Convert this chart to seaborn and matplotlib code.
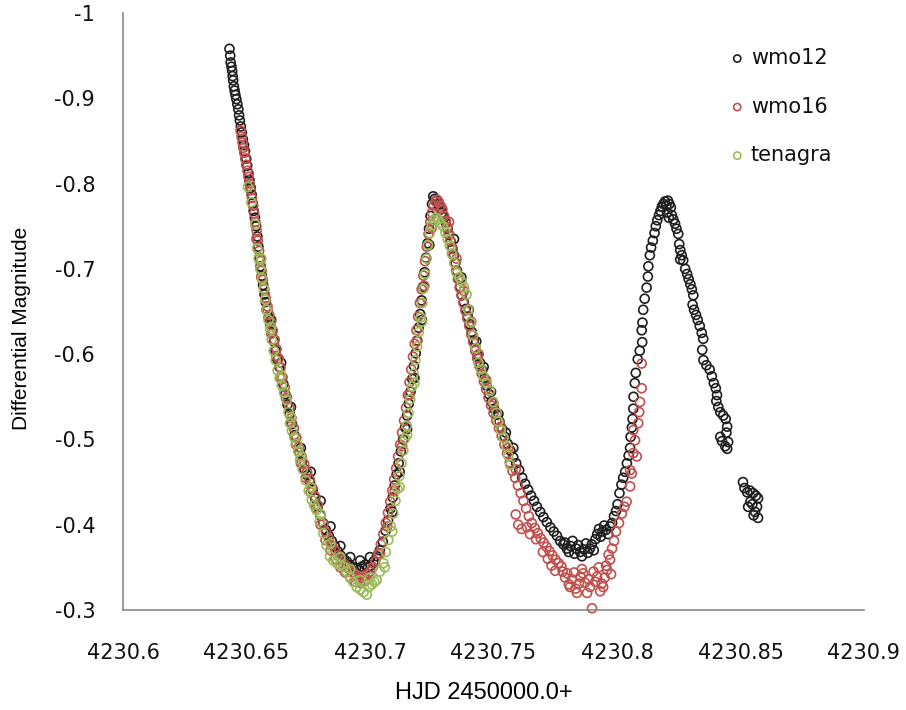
import matplotlib
matplotlib.use("Agg")
import matplotlib.pyplot as plt
import seaborn as sns
import pandas as pd
from matplotlib.ticker import FuncFormatter

# ---- photometry: heliocentric Julian date and differential magnitude ----
wmo12_hjd = [
    4230.6431, 4230.6434, 4230.6436, 4230.6439, 4230.6442, 4230.6444, 4230.6446, 4230.6449,
    4230.6452, 4230.6455, 4230.6459, 4230.6463, 4230.6467, 4230.6470, 4230.6473, 4230.6477,
    4230.6481, 4230.6485, 4230.6490, 4230.6494, 4230.6499, 4230.6503, 4230.6508, 4230.6512,
    4230.6517, 4230.6521, 4230.6525, 4230.6529, 4230.6534, 4230.6539, 4230.6544, 4230.6548,
    4230.6553, 4230.6557, 4230.6562, 4230.6567, 4230.6573, 4230.6578, 4230.6584, 4230.6590,
    4230.6597, 4230.6604, 4230.6611, 4230.6618, 4230.6625, 4230.6633, 4230.6641, 4230.6649,
    4230.6657, 4230.6666, 4230.6675, 4230.6684, 4230.6694, 4230.6703, 4230.6713, 4230.6724,
    4230.6735, 4230.6746, 4230.6757, 4230.6768, 4230.6778, 4230.6788, 4230.6799, 4230.6810,
    4230.6821, 4230.6833, 4230.6845, 4230.6857, 4230.6869, 4230.6881, 4230.6893, 4230.6906,
    4230.6918, 4230.6930, 4230.6943, 4230.6955, 4230.6968, 4230.6980, 4230.6992, 4230.7003,
    4230.7015, 4230.7028, 4230.7040, 4230.7052, 4230.7063, 4230.7073, 4230.7083, 4230.7092,
    4230.7100, 4230.7108, 4230.7116, 4230.7125, 4230.7134, 4230.7142, 4230.7150, 4230.7157,
    4230.7164, 4230.7171, 4230.7178, 4230.7185, 4230.7191, 4230.7197, 4230.7203, 4230.7209,
    4230.7215, 4230.7221, 4230.7227, 4230.7233, 4230.7239, 4230.7245, 4230.7251, 4230.7256,
    4230.7262,
    4230.7268, 4230.7276, 4230.7284, 4230.7292, 4230.7300, 4230.7307, 4230.7314, 4230.7320,
    4230.7327, 4230.7334, 4230.7340, 4230.7346, 4230.7352, 4230.7358, 4230.7365, 4230.7372,
    4230.7380, 4230.7388, 4230.7396, 4230.7404, 4230.7412, 4230.7420, 4230.7428, 4230.7436,
    4230.7445, 4230.7454, 4230.7463, 4230.7472, 4230.7482, 4230.7492, 4230.7502, 4230.7513,
    4230.7524, 4230.7535, 4230.7546, 4230.7557, 4230.7568, 4230.7580, 4230.7592, 4230.7604,
    4230.7616, 4230.7628, 4230.7640, 4230.7652, 4230.7664, 4230.7676, 4230.7689, 4230.7702,
    4230.7716, 4230.7730, 4230.7744, 4230.7757, 4230.7770, 4230.7783,
    4230.7790, 4230.7797, 4230.7805, 4230.7812, 4230.7820, 4230.7828, 4230.7835, 4230.7843,
    4230.7851, 4230.7858, 4230.7866, 4230.7874, 4230.7882, 4230.7890, 4230.7898, 4230.7906,
    4230.7913, 4230.7920, 4230.7927, 4230.7934, 4230.7941, 4230.7948, 4230.7956, 4230.7964,
    4230.7972, 4230.7980, 4230.7988,
    4230.7996, 4230.8002, 4230.8010, 4230.8018, 4230.8025, 4230.8033, 4230.8040, 4230.8047,
    4230.8053, 4230.8055, 4230.8060, 4230.8063, 4230.8066, 4230.8067, 4230.8072, 4230.8076,
    4230.8084, 4230.8092, 4230.8102, 4230.8100, 4230.8103, 4230.8106, 4230.8112, 4230.8120,
    4230.8125, 4230.8127, 4230.8133, 4230.8138, 4230.8145, 4230.8152, 4230.8157, 4230.8163,
    4230.8170, 4230.8176, 4230.8182, 4230.8188, 4230.8194, 4230.8200, 4230.8206, 4230.8212,
    4230.8218, 4230.8203, 4230.8210, 4230.8222, 4230.8228, 4230.8235, 4230.8241, 4230.8248,
    4230.8252, 4230.8256, 4230.8262, 4230.8268, 4230.8256, 4230.8276, 4230.8284, 4230.8290,
    4230.8297, 4230.8303, 4230.8309, 4230.8306, 4230.8312, 4230.8320, 4230.8327, 4230.8335,
    4230.8343, 4230.8349, 4230.8345, 4230.8350, 4230.8362, 4230.8375, 4230.8384, 4230.8392,
    4230.8400, 4230.8405, 4230.8402, 4230.8410, 4230.8418, 4230.8430, 4230.8440, 4230.8446,
    4230.8443, 4230.8418, 4230.8425, 4230.8450, 4230.8446, 4230.8438,
    4230.8510, 4230.8516, 4230.8527, 4230.8538, 4230.8551, 4230.8562, 4230.8571, 4230.8540,
    4230.8531, 4230.8548, 4230.8567, 4230.8559, 4230.8571, 4230.8553,
    # scatter along the edges of the band
    4230.6600, 4230.6640, 4230.6680, 4230.6720, 4230.6760, 4230.6800, 4230.6840, 4230.6880,
    4230.6920, 4230.6960, 4230.7000,
    4230.7090, 4230.7120, 4230.7150, 4230.7180, 4230.7210, 4230.7240,
    4230.7340, 4230.7370, 4230.7400, 4230.7430, 4230.7460, 4230.7490, 4230.7520, 4230.7550,
    4230.7580,
]
wmo12_mag = [
    -0.958, -0.950, -0.942, -0.937, -0.932, -0.926, -0.921, -0.914,
    -0.909, -0.904, -0.899, -0.893, -0.887, -0.880, -0.874, -0.867,
    -0.860, -0.852, -0.845, -0.838, -0.829, -0.821, -0.812, -0.804,
    -0.795, -0.787, -0.777, -0.768, -0.760, -0.750, -0.738, -0.726,
    -0.713, -0.703, -0.692, -0.681, -0.670, -0.661, -0.652, -0.643,
    -0.635, -0.626, -0.615, -0.604, -0.594, -0.585, -0.574, -0.565,
    -0.553, -0.541, -0.530, -0.518, -0.505, -0.495, -0.485, -0.474,
    -0.465, -0.458, -0.450, -0.441, -0.431, -0.421, -0.411, -0.402,
    -0.394, -0.387, -0.381, -0.375, -0.369, -0.364, -0.360, -0.357,
    -0.353, -0.350, -0.349, -0.347, -0.351, -0.353, -0.350, -0.352,
    -0.357, -0.363, -0.370, -0.380, -0.393, -0.405, -0.419, -0.432,
    -0.446, -0.459, -0.472, -0.486, -0.500, -0.514, -0.528, -0.542,
    -0.556, -0.571, -0.586, -0.601, -0.616, -0.631, -0.647, -0.663,
    -0.679, -0.696, -0.713, -0.730, -0.747, -0.762, -0.776, -0.785,
    -0.782,
    -0.780, -0.776, -0.771, -0.766, -0.760, -0.754, -0.747, -0.740,
    -0.732, -0.724, -0.716, -0.707, -0.698, -0.689, -0.679, -0.669,
    -0.661, -0.653, -0.644, -0.635, -0.626, -0.616, -0.607, -0.598,
    -0.590, -0.581, -0.572, -0.563, -0.553, -0.544, -0.536, -0.529,
    -0.521, -0.512, -0.503, -0.495, -0.487, -0.479, -0.472, -0.464,
    -0.455, -0.448, -0.441, -0.434, -0.428, -0.421, -0.415, -0.409,
    -0.403, -0.397, -0.392, -0.387, -0.381, -0.377,
    -0.379, -0.372, -0.368, -0.375, -0.381, -0.366, -0.372, -0.376,
    -0.368, -0.363, -0.371, -0.378, -0.367, -0.372, -0.377, -0.370,
    -0.383, -0.389, -0.395, -0.386, -0.392, -0.399, -0.394, -0.389,
    -0.398, -0.402, -0.410,
    -0.416, -0.424, -0.437, -0.447, -0.455, -0.462, -0.472, -0.481,
    -0.490, -0.503, -0.514, -0.524, -0.536, -0.550, -0.566, -0.578,
    -0.594, -0.604, -0.614, -0.628, -0.637, -0.652, -0.665, -0.678,
    -0.691, -0.703, -0.716, -0.725, -0.733, -0.742, -0.750, -0.757,
    -0.763, -0.768, -0.773, -0.776, -0.779, -0.774, -0.780, -0.776,
    -0.772, -0.766, -0.760, -0.763, -0.758, -0.753, -0.747, -0.741,
    -0.729, -0.722, -0.716, -0.710, -0.711, -0.700, -0.694, -0.688,
    -0.682, -0.676, -0.669, -0.658, -0.652, -0.646, -0.640, -0.633,
    -0.625, -0.618, -0.605, -0.593, -0.587, -0.582, -0.574, -0.566,
    -0.560, -0.552, -0.545, -0.538, -0.532, -0.528, -0.524, -0.515,
    -0.508, -0.503, -0.498, -0.497, -0.489, -0.492,
    -0.450, -0.443, -0.438, -0.440, -0.437, -0.434, -0.431, -0.427,
    -0.421, -0.424, -0.421, -0.415, -0.408, -0.411,
    -0.640, -0.590, -0.538, -0.490, -0.462, -0.428, -0.398, -0.375,
    -0.362, -0.358, -0.362,
    -0.415, -0.462, -0.512, -0.572, -0.640, -0.728,
    -0.735, -0.690, -0.652, -0.615, -0.585, -0.556, -0.530, -0.508,
    -0.490,
]

wmo16_hjd = [
    4230.6476, 4230.6480, 4230.6484, 4230.6487, 4230.6491, 4230.6495, 4230.6499, 4230.6504,
    4230.6508, 4230.6513, 4230.6517, 4230.6522, 4230.6527, 4230.6531, 4230.6536, 4230.6541,
    4230.6546, 4230.6551, 4230.6556, 4230.6561, 4230.6566, 4230.6572, 4230.6578, 4230.6585,
    4230.6592, 4230.6599, 4230.6606, 4230.6614, 4230.6622, 4230.6630, 4230.6638, 4230.6646,
    4230.6655, 4230.6664, 4230.6673, 4230.6682, 4230.6692, 4230.6702, 4230.6712, 4230.6723,
    4230.6734, 4230.6745, 4230.6756, 4230.6767, 4230.6778, 4230.6789, 4230.6800, 4230.6811,
    4230.6822, 4230.6834, 4230.6846, 4230.6858, 4230.6870, 4230.6882, 4230.6894, 4230.6906,
    4230.6918, 4230.6930, 4230.6942, 4230.6954, 4230.6966, 4230.6978, 4230.6990,
    4230.7000, 4230.7011, 4230.7022, 4230.7033, 4230.7044, 4230.7054, 4230.7064, 4230.7073,
    4230.7082, 4230.7090, 4230.7098, 4230.7106, 4230.7114, 4230.7122, 4230.7130, 4230.7138,
    4230.7146, 4230.7153, 4230.7160, 4230.7167, 4230.7174, 4230.7181, 4230.7188, 4230.7195,
    4230.7202, 4230.7209, 4230.7216, 4230.7223, 4230.7230, 4230.7237, 4230.7244, 4230.7251,
    4230.7258, 4230.7265, 4230.7272, 4230.7279, 4230.7286, 4230.7293,
    4230.7300, 4230.7307, 4230.7313, 4230.7319, 4230.7325, 4230.7331, 4230.7337, 4230.7343,
    4230.7349, 4230.7356, 4230.7363, 4230.7370, 4230.7378, 4230.7386, 4230.7394, 4230.7402,
    4230.7410, 4230.7418, 4230.7426, 4230.7434, 4230.7443, 4230.7452, 4230.7461, 4230.7470,
    4230.7480, 4230.7490, 4230.7500, 4230.7511, 4230.7522, 4230.7533, 4230.7544, 4230.7555,
    4230.7566, 4230.7577, 4230.7588, 4230.7599, 4230.7610, 4230.7621, 4230.7632, 4230.7643,
    4230.7655, 4230.7667, 4230.7679, 4230.7691, 4230.7703, 4230.7715, 4230.7727, 4230.7739,
    4230.7751, 4230.7763, 4230.7775,
    4230.7590, 4230.7600, 4230.7614, 4230.7636, 4230.7648, 4230.7672, 4230.7700, 4230.7720,
    4230.7735, 4230.7750,
    4230.7780, 4230.7790, 4230.7798, 4230.7805, 4230.7810, 4230.7818, 4230.7826, 4230.7832,
    4230.7838, 4230.7846, 4230.7852, 4230.7858, 4230.7863, 4230.7870, 4230.7879, 4230.7885,
    4230.7891, 4230.7899, 4230.7905, 4230.7912, 4230.7919, 4230.7926, 4230.7932, 4230.7938,
    4230.7944, 4230.7950, 4230.7956, 4230.7960, 4230.7966, 4230.7972, 4230.7976, 4230.7980,
    4230.7988, 4230.7996, 4230.8008, 4230.8020, 4230.8030, 4230.8039, 4230.8053, 4230.8060,
    4230.8053, 4230.8066, 4230.8080, 4230.8073, 4230.8066, 4230.8086, 4230.8090, 4230.8093,
    4230.8100, 4230.8100,
    # scatter along the edges of the band
    4230.6540, 4230.6560, 4230.6580, 4230.6600, 4230.6620, 4230.6640, 4230.6660, 4230.6680,
    4230.6700, 4230.6720, 4230.6740, 4230.6760, 4230.6780, 4230.6800, 4230.6820, 4230.6840,
    4230.6860, 4230.6880, 4230.6900, 4230.6920, 4230.6940, 4230.6960, 4230.6980,
    4230.7040, 4230.7070, 4230.7100, 4230.7130, 4230.7160, 4230.7190, 4230.7220, 4230.7250,
    4230.7320, 4230.7350, 4230.7380, 4230.7410, 4230.7440, 4230.7470, 4230.7500, 4230.7530,
    4230.7560, 4230.7590,
]
wmo16_mag = [
    -0.862, -0.855, -0.848, -0.842, -0.836, -0.829, -0.822, -0.815,
    -0.808, -0.800, -0.792, -0.783, -0.774, -0.765, -0.755, -0.745,
    -0.733, -0.721, -0.709, -0.698, -0.687, -0.676, -0.666, -0.656,
    -0.646, -0.638, -0.628, -0.617, -0.606, -0.595, -0.584, -0.573,
    -0.561, -0.549, -0.537, -0.525, -0.513, -0.502, -0.491, -0.480,
    -0.471, -0.462, -0.453, -0.443, -0.433, -0.423, -0.412, -0.401,
    -0.391, -0.383, -0.376, -0.370, -0.364, -0.359, -0.354, -0.350,
    -0.347, -0.344, -0.341, -0.340, -0.338, -0.340, -0.342,
    -0.345, -0.350, -0.357, -0.366, -0.377, -0.389, -0.402, -0.414,
    -0.427, -0.440, -0.453, -0.466, -0.480, -0.494, -0.508, -0.522,
    -0.537, -0.552, -0.567, -0.582, -0.597, -0.612, -0.628, -0.644,
    -0.660, -0.676, -0.692, -0.709, -0.726, -0.741, -0.755, -0.766,
    -0.774, -0.779, -0.781, -0.778, -0.774, -0.770,
    -0.762, -0.756, -0.749, -0.741, -0.733, -0.725, -0.716, -0.707,
    -0.698, -0.688, -0.678, -0.669, -0.660, -0.651, -0.642, -0.633,
    -0.623, -0.614, -0.604, -0.595, -0.586, -0.577, -0.568, -0.559,
    -0.549, -0.540, -0.531, -0.522, -0.513, -0.504, -0.494, -0.484,
    -0.473, -0.463, -0.455, -0.446, -0.437, -0.428, -0.419, -0.410,
    -0.402, -0.396, -0.390, -0.384, -0.379, -0.374, -0.369, -0.364,
    -0.359, -0.355, -0.351,
    -0.412, -0.400, -0.395, -0.397, -0.389, -0.383, -0.368, -0.360,
    -0.352, -0.346,
    -0.345, -0.338, -0.343, -0.330, -0.327, -0.336, -0.344, -0.325,
    -0.320, -0.331, -0.339, -0.348, -0.343, -0.332, -0.320, -0.336,
    -0.327, -0.302, -0.345, -0.333, -0.339, -0.350, -0.322, -0.331,
    -0.327, -0.338, -0.352, -0.347, -0.365, -0.359, -0.342, -0.372,
    -0.381, -0.392, -0.402, -0.413, -0.421, -0.427, -0.445, -0.460,
    -0.464, -0.484, -0.480, -0.499, -0.511, -0.519, -0.532, -0.544,
    -0.560, -0.589,
    -0.735, -0.690, -0.652, -0.624, -0.598, -0.572, -0.548, -0.520,
    -0.494, -0.472, -0.455, -0.438, -0.420, -0.400, -0.382, -0.370,
    -0.360, -0.350, -0.344, -0.338, -0.333, -0.332, -0.334,
    -0.366, -0.398, -0.440, -0.492, -0.552, -0.615, -0.680, -0.748,
    -0.755, -0.712, -0.674, -0.638, -0.600, -0.570, -0.542, -0.515,
    -0.490, -0.465,
]

tenagra_hjd = [
    4230.6506, 4230.6520, 4230.6535, 4230.6543, 4230.6549, 4230.6556, 4230.6563, 4230.6570,
    4230.6576, 4230.6582, 4230.6589, 4230.6596, 4230.6602, 4230.6610, 4230.6618, 4230.6626,
    4230.6634, 4230.6643, 4230.6652, 4230.6663, 4230.6670, 4230.6676, 4230.6684, 4230.6694,
    4230.6703, 4230.6710, 4230.6717, 4230.6728, 4230.6740, 4230.6752, 4230.6764, 4230.6774,
    4230.6784, 4230.6797, 4230.6811, 4230.6824, 4230.6838, 4230.6851, 4230.6865, 4230.6878,
    4230.6892, 4230.6905, 4230.6919, 4230.6932, 4230.6946, 4230.6960, 4230.6974, 4230.6987,
    4230.6996, 4230.7008, 4230.7018,
    4230.7027, 4230.7040, 4230.7054, 4230.7064, 4230.7074, 4230.7084, 4230.7094, 4230.7103,
    4230.7111, 4230.7119, 4230.7127, 4230.7135, 4230.7142, 4230.7149, 4230.7156, 4230.7163,
    4230.7170, 4230.7177, 4230.7184, 4230.7191, 4230.7198, 4230.7205, 4230.7211, 4230.7217,
    4230.7223, 4230.7229, 4230.7235, 4230.7242, 4230.7250, 4230.7258, 4230.7267, 4230.7276,
    4230.7285,
    4230.7295, 4230.7305, 4230.7314, 4230.7323, 4230.7331, 4230.7341, 4230.7351, 4230.7361,
    4230.7371, 4230.7381, 4230.7391, 4230.7398, 4230.7408, 4230.7418, 4230.7428, 4230.7439,
    4230.7449, 4230.7459, 4230.7472, 4230.7486, 4230.7499, 4230.7513, 4230.7520, 4230.7530,
    4230.7541, 4230.7554, 4230.7560, 4230.7567,
    # scatter along the edges of the band
    4230.6560, 4230.6600, 4230.6640, 4230.6680, 4230.6720, 4230.6760, 4230.6800, 4230.6840,
    4230.6880, 4230.6920, 4230.6960, 4230.7000,
    4230.7060, 4230.7090, 4230.7120, 4230.7150, 4230.7180, 4230.7210,
]
tenagra_mag = [
    -0.796, -0.778, -0.752, -0.724, -0.712, -0.700, -0.689, -0.677,
    -0.664, -0.652, -0.640, -0.629, -0.617, -0.604, -0.593, -0.581,
    -0.572, -0.563, -0.555, -0.546, -0.532, -0.519, -0.510, -0.502,
    -0.495, -0.486, -0.476, -0.465, -0.452, -0.440, -0.429, -0.423,
    -0.417, -0.404, -0.390, -0.376, -0.363, -0.358, -0.355, -0.353,
    -0.351, -0.345, -0.339, -0.333, -0.327, -0.324, -0.321, -0.318,
    -0.327, -0.330, -0.333,
    -0.335, -0.345, -0.355, -0.368, -0.382, -0.398, -0.413, -0.428,
    -0.442, -0.457, -0.472, -0.487, -0.501, -0.516, -0.531, -0.547,
    -0.562, -0.577, -0.593, -0.609, -0.626, -0.643, -0.660, -0.677,
    -0.694, -0.712, -0.728, -0.742, -0.751, -0.757, -0.760, -0.758,
    -0.754,
    -0.750, -0.743, -0.735, -0.727, -0.718, -0.707, -0.695, -0.690,
    -0.685, -0.678, -0.670, -0.652, -0.637, -0.622, -0.607, -0.590,
    -0.582, -0.574, -0.566, -0.557, -0.544, -0.531, -0.521, -0.511,
    -0.502, -0.492, -0.481, -0.470,
    -0.712, -0.632, -0.575, -0.526, -0.480, -0.444, -0.412, -0.378,
    -0.362, -0.348, -0.335, -0.338,
    -0.350, -0.392, -0.444, -0.505, -0.566, -0.638,
]

series_names = ["wmo12", "wmo16", "tenagra"]
series_colors = ["#1e1e1e", "#c0504d", "#9bbb59"]

x_ticks = [4230.6, 4230.65, 4230.7, 4230.75, 4230.8, 4230.85, 4230.9]
y_ticks = [-1.0, -0.9, -0.8, -0.7, -0.6, -0.5, -0.4, -0.3]

# ---- styling ----
sns.set_style("white")
plt.rcParams["font.family"] = ["DejaVu Sans"]

W, H = 906, 710
fig = plt.figure(figsize=(W / 100, H / 100), dpi=100)
ax = fig.add_axes([123 / W, 100 / H, 741 / W, 597 / H])

series = [
    (series_names[0], wmo12_hjd, wmo12_mag, series_colors[0]),
    (series_names[1], wmo16_hjd, wmo16_mag, series_colors[1]),
    (series_names[2], tenagra_hjd, tenagra_mag, series_colors[2]),
]
for name, hjd, mag, col in series:
    df = pd.DataFrame({"HJD": hjd, "mag": mag})
    sns.scatterplot(
        data=df, x="HJD", y="mag", ax=ax, marker="o", s=42,
        color=col, facecolors="none", edgecolor=col, linewidth=1.2,
        label=name, clip_on=False,
    )

ax.set_xlim(4230.6, 4230.9)
ax.set_ylim(-0.3, -1.0)
ax.set_xticks(x_ticks)
ax.set_yticks(y_ticks)
fmt = FuncFormatter(lambda v, p: f"{v:g}")
ax.xaxis.set_major_formatter(fmt)
ax.yaxis.set_major_formatter(fmt)

axis_grey = "#8a8a8a"
ax.tick_params(axis="x", direction="in", length=6, width=1.0, color=axis_grey,
               pad=24, labelsize=15, labelcolor="#111111")
ax.tick_params(axis="y", direction="in", length=7, width=1.0, color=axis_grey,
               pad=20, labelsize=15, labelcolor="#111111")
for side in ("top", "right"):
    ax.spines[side].set_visible(False)
for side in ("left", "bottom"):
    ax.spines[side].set_color(axis_grey)
    ax.spines[side].set_linewidth(1.2)

label_font = ["Liberation Sans", "DejaVu Sans"]
ax.set_xlabel("HJD 2450000.0+", fontsize=17, family=label_font, color="#000000")
ax.xaxis.set_label_coords((484 - 123) / 741, (610 - 693) / 597)
ax.xaxis.label.set_va("center")
ax.set_ylabel("Differential Magnitude", fontsize=15, family=label_font, color="#000000")
ax.yaxis.set_label_coords((22 - 123) / 741, (610 - 328) / 597)
ax.yaxis.label.set_va("center")

ax.legend(
    loc="upper left", bbox_to_anchor=(731 / W, 1 - 48 / H), bbox_transform=fig.transFigure,
    frameon=False, fontsize=15, handlelength=0.6, handletextpad=0.35,
    labelspacing=1.37, borderpad=0, borderaxespad=0, markerscale=0.8,
    labelcolor="#111111",
)

fig.savefig("out.png", dpi=100)
